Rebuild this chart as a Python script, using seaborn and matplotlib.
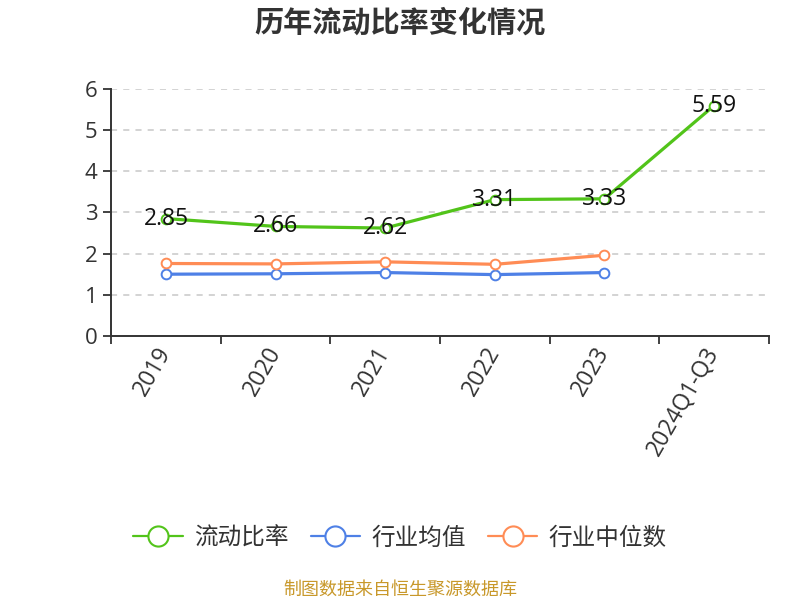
import matplotlib
matplotlib.use("Agg")
import matplotlib.pyplot as plt
from matplotlib.lines import Line2D
import seaborn as sns
import pandas as pd

years = ["2019", "2020", "2021", "2022", "2023", "2024Q1-Q3"]
current_ratio = [2.85, 2.66, 2.62, 3.31, 3.33, 5.59]
industry_avg = [1.50, 1.51, 1.54, 1.49, 1.54]
industry_median = [1.76, 1.75, 1.80, 1.74, 1.96]
series_names = ["流动比率", "行业均值", "行业中位数"]
colors = ["#52c41a", "#4e80e6", "#ff8c55"]

sns.set_style("white")
plt.rcParams['font.family'] = ['Noto Sans CJK SC', 'DejaVu Sans']
num_font = ['Open Sans', 'Noto Sans CJK SC', 'DejaVu Sans']

fig = plt.figure(figsize=(8, 6), dpi=100)
ax = fig.add_axes([0.139, 0.44, 0.822, 0.412])

df = pd.concat([
    pd.DataFrame({"year": years, "value": current_ratio, "series": series_names[0]}),
    pd.DataFrame({"year": years[:5], "value": industry_avg, "series": series_names[1]}),
    pd.DataFrame({"year": years[:5], "value": industry_median, "series": series_names[2]}),
])

for name, c, z in zip(series_names, colors, [3, 2, 2]):
    sub = df[df["series"] == name]
    sns.lineplot(data=sub, x="year", y="value", ax=ax, color=c, linewidth=2.3,
                 marker="o", markersize=7, markerfacecolor="white",
                 markeredgecolor=c, markeredgewidth=1.4, zorder=z, legend=False)

for i, v in enumerate(current_ratio):
    ax.text(i, v, f"{v:.2f}", ha="center", va="center", fontsize=16.5,
            color="#111111", zorder=5, family=num_font)

ax.set_ylim(0, 6)
ax.set_xlim(-0.5, len(years) - 0.5)
ax.set_yticks(range(0, 7))
ax.set_xticks(range(len(years)))
ax.set_xticklabels(years, rotation=60, ha="right", va="center", rotation_mode="anchor")
ax.set_xticks([i - 0.5 for i in range(len(years) + 1)], minor=True)
ax.tick_params(axis="x", which="major", bottom=True, length=0, labelsize=16.5,
               labelcolor="#333333", pad=9)
ax.tick_params(axis="x", which="minor", bottom=True, length=6, width=1.3,
               color="#333333", direction="out")
ax.tick_params(axis="y", which="major", left=True, length=6, width=1.3, color="#333333",
               labelsize=16, labelcolor="#333333", direction="out", pad=4)
for lab in ax.get_xticklabels() + ax.get_yticklabels():
    lab.set_family(num_font)
ax.set_xlabel("")
ax.set_ylabel("")
ax.grid(axis="y", linestyle=(0, (4, 4)), color="#c8c8c8", linewidth=1.1)
ax.set_axisbelow(True)
for s in ["top", "right"]:
    ax.spines[s].set_visible(False)
for s in ["left", "bottom"]:
    ax.spines[s].set_color("#333333")
    ax.spines[s].set_linewidth(1.4)

fig.text(0.5, 0.962, "历年流动比率变化情况", ha="center", va="center",
         fontsize=21, fontweight="bold", color="#333333")

handles = [Line2D([0], [0], color=c, linewidth=1.6, marker="o", markersize=14.5,
                  markerfacecolor="white", markeredgecolor=c, markeredgewidth=1.5)
           for c in colors]
fig.legend(handles, series_names, loc="center", bbox_to_anchor=(0.5, 0.103), ncol=3,
           frameon=False, fontsize=17, handlelength=2.1, columnspacing=0.93,
           handletextpad=0.47, labelcolor="#333333")

fig.text(0.5, 0.017, "制图数据来自恒生聚源数据库", ha="center", va="center",
         fontsize=13, color="#c8982a")

fig.savefig("out.png", dpi=100)
